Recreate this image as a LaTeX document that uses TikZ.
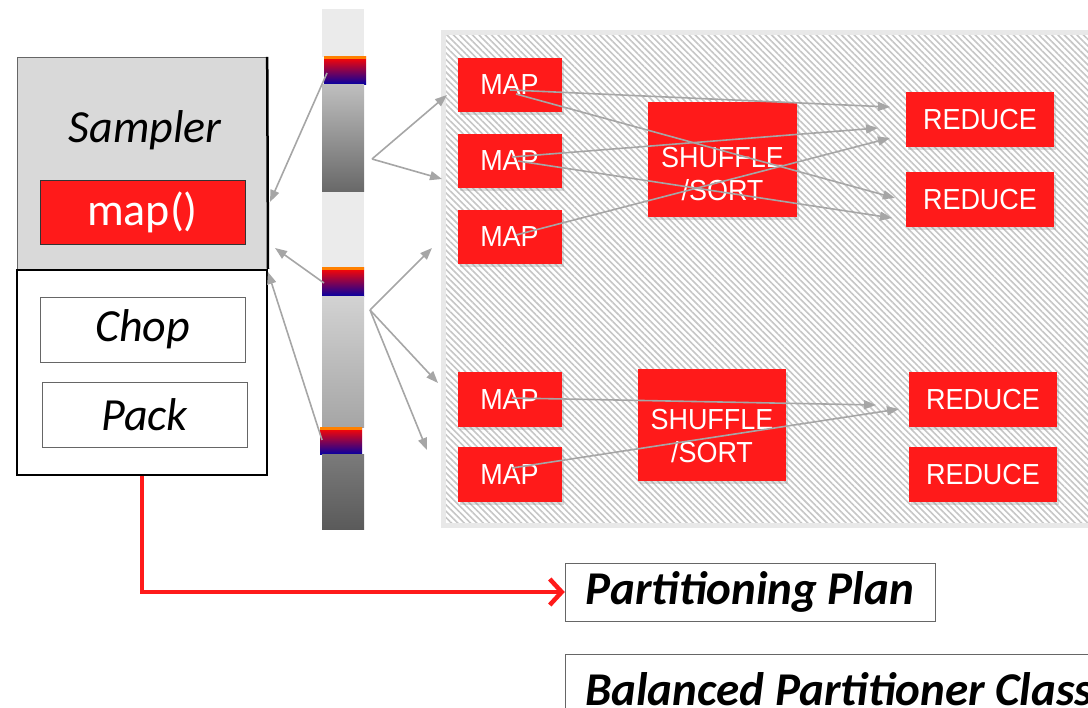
\documentclass[tikz,border=0pt]{standalone}
\usepackage{fontspec}
\setmainfont{Carlito}
\newfontfamily\taskfont[FakeStretch=0.93]{Liberation Sans}
\usetikzlibrary{arrows.meta,shadows,patterns.meta}
\definecolor{jobred}{HTML}{FF1A1A}
\definecolor{flowgray}{HTML}{A6A6A6}
\definecolor{barlight}{HTML}{EBEBEB}
\tikzset{
  task/.style={fill=jobred, text=white, inner sep=0pt, align=center,
    font=\taskfont\fontsize{29}{33}\selectfont,
    drop shadow={shadow xshift=2pt, shadow yshift=-3pt, opacity=0.25}},
  tasklabel/.style={text=white, inner sep=0pt, align=center,
    font=\taskfont\fontsize{29}{33}\selectfont},
  stepbox/.style={draw=gray!80!black, fill=white, inner sep=0pt,
    minimum width=205pt, minimum height=65pt,
    font=\itshape\fontsize{46}{50}\selectfont},
  flow/.style={draw=flowgray, line width=1.6pt, -{Triangle[length=12pt,width=9pt]}},
  chunk/.style={top color=red!95!orange, middle color=purple!80!red, bottom color=blue!65!black}
}
\begin{document}
\begin{tikzpicture}[x=1pt,y=-1pt]
\useasboundingbox (0,0) rectangle (1088,708);
\clip (0,0) rectangle (1088,708);
% cluster area
\draw[draw=gray!18, line width=5pt, pattern={Lines[angle=-45,distance=4.5pt,line width=1.6pt]}, pattern color=gray!45] (443.5,32.5) rectangle (1100,525.5);
% input file
\fill[barlight] (322,9) rectangle (364,57);
\shade[chunk] (324,57) rectangle (366,85);
\fill[orange] (324,56) rectangle (366,59);
\shade[top color={rgb,255:red,190;green,190;blue,190}, bottom color={rgb,255:red,104;green,104;blue,104}] (322,85) rectangle (364,192);
\fill[barlight] (322,192) rectangle (364,268);
\shade[chunk] (322,268) rectangle (364,297);
\fill[orange] (322,267) rectangle (364,270);
\shade[top color={rgb,255:red,210;green,210;blue,210}, bottom color={rgb,255:red,165;green,165;blue,165}] (322,297) rectangle (364,428);
\shade[chunk] (320,428) rectangle (362,455);
\fill[orange] (320,427) rectangle (362,430);
\shade[top color={rgb,255:red,122;green,122;blue,122}, bottom color={rgb,255:red,90;green,90;blue,90}] (322,455) rectangle (364,530);
% sampler
\node[draw=gray!80!black, fill=gray!30, minimum width=250pt, minimum height=213pt, inner sep=0pt] (samplerbox) at (142,163.5){};
\node[draw=black, line width=2pt, fill=white, minimum width=250pt, minimum height=205pt, inner sep=0pt] (samplerbase) at (142,372.5){};
\draw[line width=2.5pt] (samplerbox.north east) -- (samplerbase.north east);
\node[font=\itshape\fontsize{46}{50}\selectfont] (samplerlabel) at (145,130){Sampler};
\node[draw=black!80, fill=jobred, text=white, minimum width=205pt, minimum height=64pt, inner sep=0pt, font=\fontsize{46}{50}\selectfont] (mapfn) at (142.5,212){map()};
\node[stepbox] (chop) at (142.5,329.5){Chop};
\node[stepbox] (pack) at (144.5,414.5){Pack};
% jobs
\node[task, minimum width=104pt, minimum height=54pt] (map1) at (509.5,85){MAP};
\node[task, minimum width=104pt, minimum height=54pt] (map2) at (509.5,161){MAP};
\node[task, minimum width=104pt, minimum height=54pt] (map3) at (509.5,237){MAP};
\node[task, minimum width=104pt, minimum height=55pt] (map4) at (509.5,399.5){MAP};
\node[task, minimum width=104pt, minimum height=55pt] (map5) at (509.5,475){MAP};
\node[task, minimum width=149pt, minimum height=115pt] (shuffle1) at (722.5,159.5){};
\node[tasklabel] (shuffle1text) at (722.5,174){SHUFFLE\\/SORT};
\node[task, minimum width=148pt, minimum height=112pt] (shuffle2) at (712,425){};
\node[tasklabel] (shuffle2text) at (712,436){SHUFFLE\\/SORT};
\node[task, minimum width=148pt, minimum height=55pt] (reduce1) at (980,120){REDUCE};
\node[task, minimum width=148pt, minimum height=55pt] (reduce2) at (980,200){REDUCE};
\node[task, minimum width=148pt, minimum height=55pt] (reduce3) at (983,399.5){REDUCE};
\node[task, minimum width=148pt, minimum height=55pt] (reduce4) at (983,475){REDUCE};
% plan and class
\node[draw=gray!80!black, fill=white, minimum width=370pt, minimum height=58pt, inner sep=0pt, font=\bfseries\itshape\fontsize{47}{50}\selectfont] (plan) at (750,592){Partitioning Plan};
\node[draw=gray!80!black, fill=white, anchor=north west, minimum height=70pt, inner xsep=20pt, inner ysep=0pt, font=\bfseries\itshape\fontsize{47}{50}\selectfont] (balanced) at (565,654){Balanced Partitioner Class};
\draw[draw=jobred, line width=4.5pt, -{Straight Barb[length=12pt,width=26pt,line width=4.5pt]}] (samplerbase.south) |- (plan.west);
% sample reads
\coordinate (blk1) at (327,73);
\coordinate (blk2) at (324,283);
\coordinate (blk3) at (322,440);
\coordinate (in1) at (270,202);
\coordinate (in2) at (275,248);
\coordinate (in3) at (268,272);
\draw[flow] (blk1) -- (in1);
\draw[flow] (blk2) -- (in2);
\draw[flow] (blk3) -- (in3);
\coordinate (split1) at (372,159);
\coordinate (split2) at (370,310);
\coordinate (feed1) at (447,95);
\coordinate (feed2) at (442,179);
\coordinate (feed3) at (432,248);
\coordinate (feed4) at (438,383);
\coordinate (feed5) at (427,450);
\draw[flow] (split1) -- (feed1);
\draw[flow] (split1) -- (feed2);
\draw[flow] (split2) -- (feed3);
\draw[flow] (split2) -- (feed4);
\draw[flow] (split2) -- (feed5);
% shuffle
\coordinate (out1a) at (510,90);
\coordinate (out1b) at (516,94);
\coordinate (out2a) at (512,157);
\coordinate (out2b) at (518,161);
\coordinate (out3) at (516,235);
\coordinate (out4) at (512,398);
\coordinate (out5) at (512,468);
\coordinate (rin1a) at (890,107);
\coordinate (rin1b) at (878,128);
\coordinate (rin1c) at (890,138);
\coordinate (rin2a) at (895,198);
\coordinate (rin2b) at (892,218);
\coordinate (rin3a) at (876,405);
\coordinate (rin3b) at (899,409);
\draw[flow] (out1a) -- (rin1a);
\draw[flow] (out1b) -- (rin2a);
\draw[flow] (out2a) -- (rin1b);
\draw[flow] (out2b) -- (rin2b);
\draw[flow] (out3) -- (rin1c);
\draw[flow] (out4) -- (rin3a);
\draw[flow] (out5) -- (rin3b);
\end{tikzpicture}
\end{document}
